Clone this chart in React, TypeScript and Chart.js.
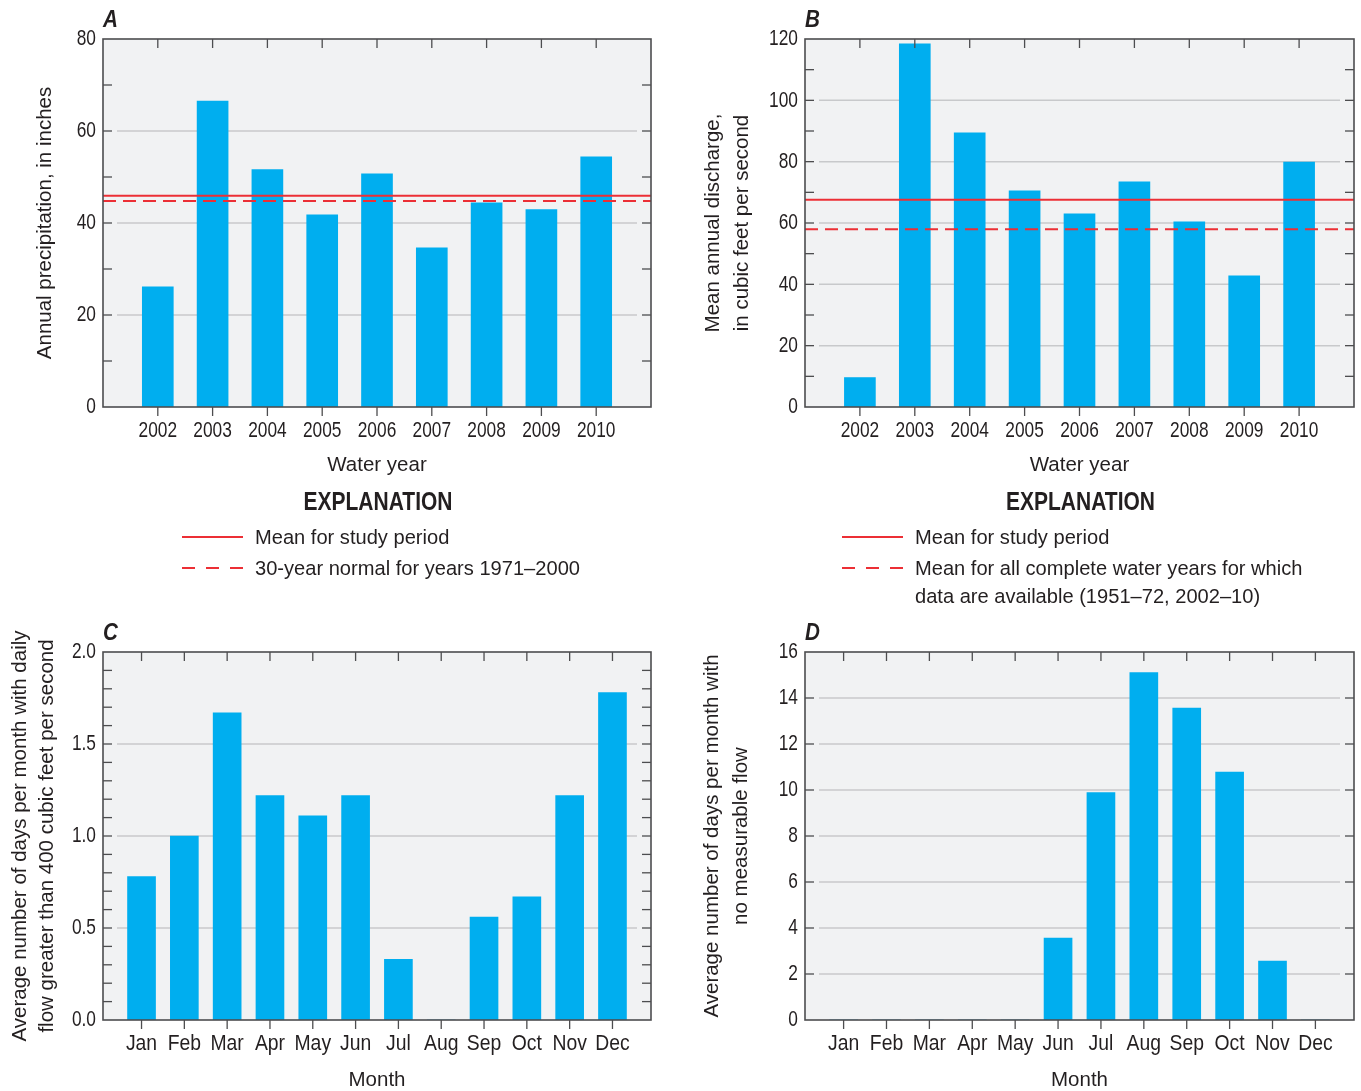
import React, { useEffect, useRef } from 'react';
import { Chart, registerables } from 'chart.js';

Chart.register(...registerables);

// ---------------- data ----------------
const WATER_YEARS = [2002, 2003, 2004, 2005, 2006, 2007, 2008, 2009, 2010];
const ANNUAL_PRECIP_IN = [26.1, 66.5, 51.6, 41.8, 50.7, 34.6, 44.4, 42.9, 54.4];
const PRECIP_STUDY_MEAN = 45.9;
const PRECIP_30YR_NORMAL = 44.8;

const MEAN_DISCHARGE_CFS = [9.6, 118.4, 89.4, 70.5, 63.0, 73.4, 60.4, 42.8, 79.9];
const DISCHARGE_STUDY_MEAN = 67.6;
const DISCHARGE_LONG_TERM_MEAN = 58.0;

const MONTHS = ['Jan', 'Feb', 'Mar', 'Apr', 'May', 'Jun', 'Jul', 'Aug', 'Sep', 'Oct', 'Nov', 'Dec'];
const MONTH_INDEX = [1, 2, 3, 4, 5, 6, 7, 8, 9, 10, 11, 12];
const DAYS_ABOVE_400_CFS = [0.78, 1.0, 1.67, 1.22, 1.11, 1.22, 0.33, 0, 0.56, 0.67, 1.22, 1.78];
const DAYS_NO_FLOW = [0, 0, 0, 0, 0, 3.56, 9.89, 15.11, 13.56, 10.78, 2.56, 0];

const YEAR_LABELS = WATER_YEARS.map(String);

// ---------------- style ----------------
const REGULAR = "'Liberation Sans', Arial, 'DejaVu Sans', sans-serif";
const BAR_COLOR = '#00aeef';
const RED = '#ec2f35';
const PLOT_BG = '#f1f2f3';
const GRID_COLOR = '#c8c9cb';
const AXIS_COLOR = '#4d4d4f';
const TEXT = '#231f20';
const TICK_FONT = `22.5px ${REGULAR}`;
const DIGIT_SCALE = 0.77;

type RefLine = { value: number; dashed: boolean };
type LegendEntry = { dashed: boolean; lines: string[]; y: number };
type PanelSpec = {
  left: number; top: number; w: number; h: number;
  padding: { top: number; right: number; bottom: number; left: number };
  yAxisWidth: number; xAxisHeight: number;
  xMin: number; xMax: number; xValues: number[]; xLabels: string[]; xLabelScale: number;
  values: number[]; barThickness: number;
  yMax: number; yMajor: number; yMinor: number; yDecimals: number;
  refLines: RefLine[];
  letter: string;
  yTitle: string[]; yTitleX: number[];
  xTitle: string; xTitleY: number;
  legend?: { lineX: number; entries: LegendEntry[] };
};

const SPEC_A: PanelSpec = {
  left: 0, top: 0, w: 680, h: 612,
  padding: { top: 39, right: 29, bottom: 122, left: 0 },
  yAxisWidth: 103, xAxisHeight: 83,
  xMin: 2001, xMax: 2011, xValues: WATER_YEARS, xLabels: YEAR_LABELS, xLabelScale: DIGIT_SCALE,
  values: ANNUAL_PRECIP_IN, barThickness: 31,
  yMax: 80, yMajor: 20, yMinor: 10, yDecimals: 0,
  refLines: [
    { value: PRECIP_STUDY_MEAN, dashed: false },
    { value: PRECIP_30YR_NORMAL, dashed: true },
  ],
  letter: 'A',
  yTitle: ['Annual precipitation, in inches'], yTitleX: [45],
  xTitle: 'Water year', xTitleY: 465,
  legend: {
    lineX: 182,
    entries: [
      { dashed: false, lines: ['Mean for study period'], y: 538 },
      { dashed: true, lines: ['30-year normal for years 1971\u20132000'], y: 569 },
    ],
  },
};

const SPEC_B: PanelSpec = {
  left: 680, top: 0, w: 681, h: 612,
  padding: { top: 39, right: 7, bottom: 122, left: 0 },
  yAxisWidth: 125, xAxisHeight: 83,
  xMin: 2001, xMax: 2011, xValues: WATER_YEARS, xLabels: YEAR_LABELS, xLabelScale: DIGIT_SCALE,
  values: MEAN_DISCHARGE_CFS, barThickness: 31,
  yMax: 120, yMajor: 20, yMinor: 10, yDecimals: 0,
  refLines: [
    { value: DISCHARGE_STUDY_MEAN, dashed: false },
    { value: DISCHARGE_LONG_TERM_MEAN, dashed: true },
  ],
  letter: 'B',
  yTitle: ['Mean annual discharge,', 'in cubic feet per second'], yTitleX: [33, 62],
  xTitle: 'Water year', xTitleY: 465,
  legend: {
    lineX: 162,
    entries: [
      { dashed: false, lines: ['Mean for study period'], y: 538 },
      {
        dashed: true,
        lines: ['Mean for all complete water years for which', 'data are available (1951\u201372, 2002\u201310)'],
        y: 569,
      },
    ],
  },
};

const SPEC_C: PanelSpec = {
  left: 0, top: 612, w: 680, h: 479,
  padding: { top: 40, right: 29, bottom: 0, left: 0 },
  yAxisWidth: 103, xAxisHeight: 71,
  xMin: 0.1, xMax: 12.9, xValues: MONTH_INDEX, xLabels: MONTHS, xLabelScale: 0.86,
  values: DAYS_ABOVE_400_CFS, barThickness: 28,
  yMax: 2, yMajor: 0.5, yMinor: 0.1, yDecimals: 1,
  refLines: [],
  letter: 'C',
  yTitle: ['Average number of days per month with daily', 'flow greater than 400 cubic feet per second'],
  yTitleX: [20, 47],
  xTitle: 'Month', xTitleY: 468,
};

const SPEC_D: PanelSpec = {
  left: 680, top: 612, w: 681, h: 479,
  padding: { top: 40, right: 7, bottom: 0, left: 0 },
  yAxisWidth: 125, xAxisHeight: 71,
  xMin: 0.1, xMax: 12.9, xValues: MONTH_INDEX, xLabels: MONTHS, xLabelScale: 0.86,
  values: DAYS_NO_FLOW, barThickness: 28,
  yMax: 16, yMajor: 2, yMinor: 2, yDecimals: 0,
  refLines: [],
  letter: 'D',
  yTitle: ['Average number of days per month with', 'no measurable flow'], yTitleX: [32, 61],
  xTitle: 'Month', xTitleY: 468,
};

function hLine(ctx: CanvasRenderingContext2D, x0: number, x1: number, y: number) {
  ctx.beginPath();
  ctx.moveTo(x0, y);
  ctx.lineTo(x1, y);
  ctx.stroke();
}
function vLine(ctx: CanvasRenderingContext2D, x: number, y0: number, y1: number) {
  ctx.beginPath();
  ctx.moveTo(x, y0);
  ctx.lineTo(x, y1);
  ctx.stroke();
}
// condensed text (emulates a condensed typeface by horizontal scaling)
function narrowText(
  ctx: CanvasRenderingContext2D, text: string, x: number, y: number,
  font: string, align: CanvasTextAlign, baseline: CanvasTextBaseline, sx: number,
) {
  ctx.save();
  ctx.font = font;
  ctx.textAlign = align;
  ctx.textBaseline = baseline;
  ctx.translate(x, y);
  ctx.scale(sx, 1);
  ctx.fillText(text, 0, 0);
  ctx.restore();
}

function makeFramePlugin(spec: PanelSpec) {
  return {
    id: 'usgsFrame' + spec.letter,
    beforeDatasetsDraw(chart: any) {
      const { ctx, chartArea: a } = chart;
      const ys = chart.scales.y;
      ctx.save();
      ctx.fillStyle = PLOT_BG;
      ctx.fillRect(a.left, a.top, a.right - a.left, a.bottom - a.top);
      ctx.strokeStyle = GRID_COLOR;
      ctx.lineWidth = 1.5;
      const n = Math.round((ys.max - ys.min) / spec.yMajor);
      for (let i = 1; i < n; i++) {
        const py = ys.getPixelForValue(ys.min + i * spec.yMajor);
        hLine(ctx, a.left + 14, a.right - 14, py);
      }
      ctx.restore();
    },
    afterDatasetsDraw(chart: any) {
      const { ctx, chartArea: a } = chart;
      const xs = chart.scales.x;
      const ys = chart.scales.y;
      ctx.save();
      ctx.strokeStyle = AXIS_COLOR;
      ctx.lineWidth = 1.3;
      const n = Math.round((ys.max - ys.min) / spec.yMinor);
      for (let i = 1; i < n; i++) {
        const py = ys.getPixelForValue(ys.min + i * spec.yMinor);
        hLine(ctx, a.left, a.left + 9, py);
        hLine(ctx, a.right - 9, a.right, py);
      }
      for (const t of xs.ticks) {
        const px = xs.getPixelForValue(t.value);
        vLine(ctx, px, a.top, a.top + 9);
        vLine(ctx, px, a.bottom, a.bottom + 9);
      }
      ctx.lineWidth = 1.6;
      ctx.strokeRect(a.left, a.top, a.right - a.left, a.bottom - a.top);
      ctx.restore();
    },
    afterDraw(chart: any) {
      const { ctx, chartArea: a } = chart;
      const xs = chart.scales.x;
      const ys = chart.scales.y;
      ctx.save();
      ctx.fillStyle = TEXT;
      // tick labels (positions from the scales)
      xs.ticks.forEach((t: any, i: number) => {
        narrowText(ctx, spec.xLabels[i], xs.getPixelForValue(t.value), a.bottom + 24, TICK_FONT, 'center', 'middle', spec.xLabelScale);
      });
      ys.ticks.forEach((t: any) => {
        narrowText(ctx, Number(t.value).toFixed(spec.yDecimals), a.left - 7, ys.getPixelForValue(t.value), TICK_FONT, 'right', 'middle', DIGIT_SCALE);
      });
      // panel letter
      narrowText(ctx, spec.letter, a.left, a.top - 12, `italic bold 24px ${REGULAR}`, 'left', 'alphabetic', 0.86);
      // y title
      ctx.font = `20.5px ${REGULAR}`;
      ctx.textAlign = 'center';
      ctx.textBaseline = 'middle';
      const cy = (a.top + a.bottom) / 2;
      spec.yTitle.forEach((line, i) => {
        ctx.save();
        ctx.translate(spec.yTitleX[i], cy);
        ctx.rotate(-Math.PI / 2);
        ctx.fillText(line, 0, 0);
        ctx.restore();
      });
      // x title
      const cx = (a.left + a.right) / 2;
      ctx.fillText(spec.xTitle, cx, spec.xTitleY);
      // explanation
      if (spec.legend) {
        narrowText(ctx, 'EXPLANATION', cx + 1, 503, `bold 25px ${REGULAR}`, 'center', 'middle', 0.84);
        const lx = spec.legend.lineX;
        for (const e of spec.legend.entries) {
          ctx.strokeStyle = RED;
          ctx.lineWidth = 2;
          ctx.setLineDash(e.dashed ? [13, 11] : []);
          hLine(ctx, lx, lx + 61, e.y - 1);
          ctx.setLineDash([]);
          e.lines.forEach((line, i) =>
            narrowText(ctx, line, lx + 73, e.y + i * 28, `20.5px ${REGULAR}`, 'left', 'middle', 0.98),
          );
        }
      }
      ctx.restore();
    },
  };
}

function buildConfig(spec: PanelSpec): any {
  const datasets: any[] = [
    {
      type: 'bar',
      data: spec.xValues.map((x, i) => ({ x, y: spec.values[i] })),
      backgroundColor: BAR_COLOR,
      borderWidth: 0,
      barThickness: spec.barThickness,
      order: 2,
    },
  ];
  for (const r of spec.refLines) {
    datasets.push({
      type: 'line',
      data: [
        { x: spec.xMin, y: r.value },
        { x: spec.xMax, y: r.value },
      ],
      borderColor: RED,
      borderWidth: 2,
      borderDash: r.dashed ? [13, 7] : [],
      pointRadius: 0,
      fill: false,
      order: 1,
    });
  }
  return {
    type: 'bar',
    data: { datasets },
    options: {
      animation: false,
      responsive: false,
      maintainAspectRatio: false,
      events: [],
      layout: { padding: spec.padding },
      plugins: { legend: { display: false }, tooltip: { enabled: false } },
      scales: {
        x: {
          type: 'linear',
          min: spec.xMin,
          max: spec.xMax,
          offset: false,
          grid: { display: false, drawTicks: false },
          border: { display: false },
          afterBuildTicks: (s: any) => {
            s.ticks = spec.xValues.map((v) => ({ value: v }));
          },
          afterFit: (s: any) => {
            s.height = spec.xAxisHeight;
          },
          ticks: { display: false, autoSkip: false, maxRotation: 0, minRotation: 0 },
        },
        y: {
          type: 'linear',
          min: 0,
          max: spec.yMax,
          grid: { display: false, drawTicks: false },
          border: { display: false },
          afterFit: (s: any) => {
            s.width = spec.yAxisWidth;
          },
          ticks: { display: false, stepSize: spec.yMajor },
        },
      },
    },
    plugins: [makeFramePlugin(spec)],
  };
}

function ChartPanel({ spec }: { spec: PanelSpec }) {
  const ref = useRef<HTMLCanvasElement | null>(null);
  useEffect(() => {
    if (!ref.current) return;
    const chart = new Chart(ref.current, buildConfig(spec));
    return () => chart.destroy();
  }, [spec]);
  return (
    <canvas
      ref={ref}
      width={spec.w}
      height={spec.h}
      style={{ position: 'absolute', left: spec.left, top: spec.top, width: spec.w, height: spec.h }}
    />
  );
}

export default function App() {
  return (
    <div
      style={{
        position: 'absolute',
        left: 0,
        top: 0,
        width: 1361,
        height: 1091,
        background: '#ffffff',
        overflow: 'hidden',
      }}
    >
      <ChartPanel spec={SPEC_A} />
      <ChartPanel spec={SPEC_B} />
      <ChartPanel spec={SPEC_C} />
      <ChartPanel spec={SPEC_D} />
    </div>
  );
}
